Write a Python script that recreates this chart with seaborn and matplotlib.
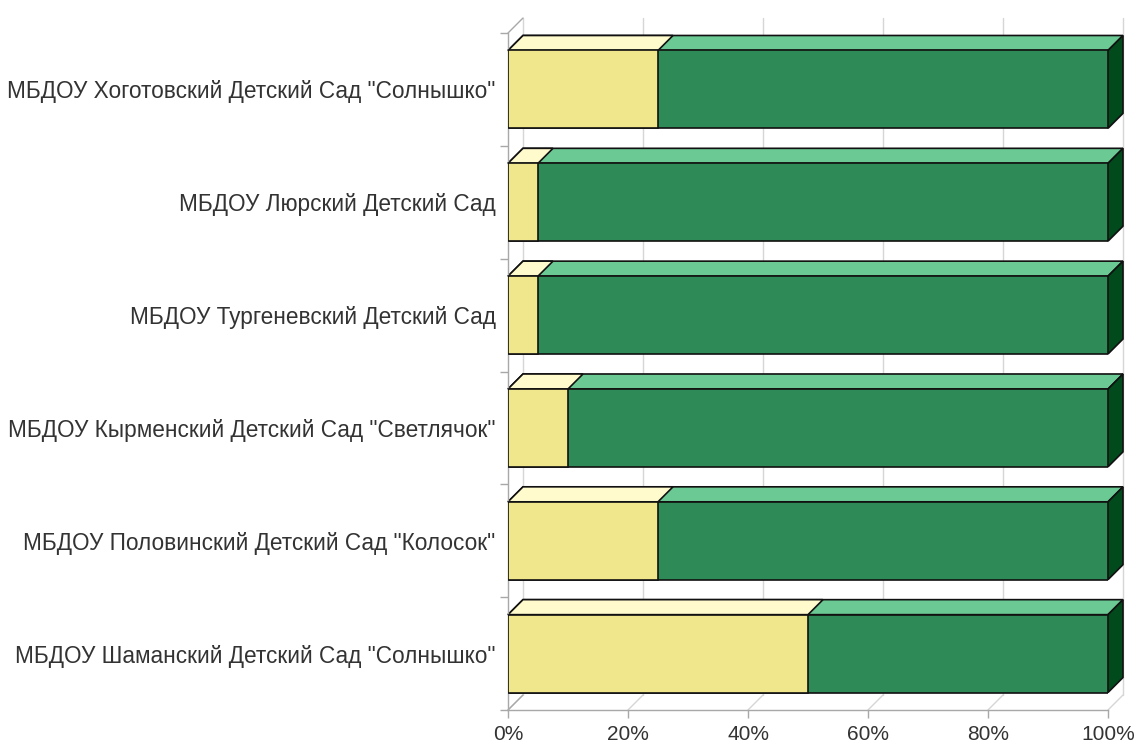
import matplotlib
matplotlib.use('Agg')
import matplotlib.pyplot as plt
from matplotlib.patches import Polygon
import numpy as np
import pandas as pd
import seaborn as sns

# ─── DATA ─────────────────────────────────────────────────────────────────────

schools = [
    'МБДОУ Хоготовский Детский Сад "Солнышко"',
    'МБДОУ Люрский Детский Сад',
    'МБДОУ Тургеневский Детский Сад',
    'МБДОУ Кырменский Детский Сад "Светлячок"',
    'МБДОУ Половинский Детский Сад "Колосок"',
    'МБДОУ Шаманский Детский Сад "Солнышко"',
]
share_yellow = [25, 5, 5, 10, 25, 50]
share_green = [75, 95, 95, 90, 75, 50]
x_ticks = [0, 20, 40, 60, 80, 100]

# ─── STYLE ────────────────────────────────────────────────────────────────────

YELLOW_FRONT, YELLOW_TOP = '#F0E68C', '#FFFBCD'
GREEN_FRONT, GREEN_TOP, GREEN_SIDE = '#2E8B57', '#6BC994', '#004A1C'
GRID, AXIS, TEXT = '#D6D6D6', '#A8A8A8', '#333333'

sns.set_theme(style='white')
plt.rcParams['font.family'] = ['Liberation Sans', 'DejaVu Sans']

W, H = 1136, 747
fig = plt.figure(figsize=(W / 100, H / 100), dpi=100)
# front plane: 0% at x=508 px, 100% at x=1108 px; categories between y=33 and y=710 px
ax = fig.add_axes([508 / W, 1 - 710 / H, 600 / W, 677 / H])

df = pd.DataFrame({
    'school': schools,
    'yellow': share_yellow,
    'total': [a + b for a, b in zip(share_yellow, share_green)],
})

bar_h = 0.69
sns.barplot(data=df, y='school', x='total', orient='h', color=GREEN_FRONT,
            saturation=1, width=bar_h, edgecolor='#111111', linewidth=1.2,
            errorbar=None, ax=ax)
n_green = len(ax.patches)
sns.barplot(data=df, y='school', x='yellow', orient='h', color=YELLOW_FRONT,
            saturation=1, width=bar_h, edgecolor='#111111', linewidth=1.2,
            errorbar=None, ax=ax)

ax.set_xlim(0, 100)
ax.set_ylim(len(schools) - 0.5, -0.5)

# depth of the fake 3D: 15 px right and 15 px up
dx = 15 * 100 / 600
dy = 15 * len(schools) / 677

# 3D faces for each front rectangle
for i, p in enumerate(ax.patches[:]):
    x0, w = p.get_x(), p.get_width()
    y0, h = p.get_y(), p.get_height()
    ytop, ybot = min(y0, y0 + h), max(y0, y0 + h)
    x1 = x0 + w
    is_green = i < n_green
    top = Polygon([(x0, ytop), (x1, ytop), (x1 + dx, ytop - dy), (x0 + dx, ytop - dy)],
                  closed=True, facecolor=GREEN_TOP if is_green else YELLOW_TOP,
                  edgecolor='#111111', linewidth=1.2, zorder=1.5 if is_green else 2.5,
                  clip_on=False)
    ax.add_patch(top)
    if is_green:
        side = Polygon([(x1, ytop), (x1 + dx, ytop - dy), (x1 + dx, ybot - dy), (x1, ybot)],
                       closed=True, facecolor=GREEN_SIDE, edgecolor='#111111',
                       linewidth=1.2, zorder=1.5, clip_on=False)
        ax.add_patch(side)
        p.set_zorder(1.6)
    else:
        p.set_zorder(2.6)

# back wall, floor and left wall lines
y_top, y_floor = -0.5, len(schools) - 0.5
for t in x_ticks:
    ax.plot([t + dx, t + dx], [y_top - dy, y_floor - dy], color=GRID, lw=1,
            zorder=0.5, clip_on=False)
    ax.plot([t, t + dx], [y_floor, y_floor - dy], color=GRID, lw=1,
            zorder=0.5, clip_on=False)
ax.plot([0, dx], [y_top, y_top - dy], color=AXIS, lw=1, zorder=0.5, clip_on=False)
ax.plot([0, dx], [y_floor, y_floor - dy], color=AXIS, lw=1, zorder=0.5, clip_on=False)

# axes
for side in ['top', 'right']:
    ax.spines[side].set_visible(False)
ax.spines['left'].set_color(AXIS)
ax.spines['bottom'].set_color(AXIS)
ax.spines['left'].set_linewidth(1)
ax.spines['bottom'].set_linewidth(1)

ax.set_xticks(x_ticks)
ax.set_xticklabels([f'{t}%' for t in x_ticks])
ax.set_yticks(np.arange(-0.5, len(schools)), minor=True)
ax.tick_params(axis='y', which='major', length=0, pad=9, labelsize=16.3,
               labelcolor=TEXT)
ax.tick_params(axis='y', which='minor', left=True, length=6, color=AXIS, width=1)
ax.tick_params(axis='x', bottom=True, length=6, color=AXIS, width=1, pad=5,
               labelsize=15, labelcolor=TEXT)
ax.set_xlabel('')
ax.set_ylabel('')
ax.grid(False)

fig.savefig('out.png', dpi=100, facecolor='white')
